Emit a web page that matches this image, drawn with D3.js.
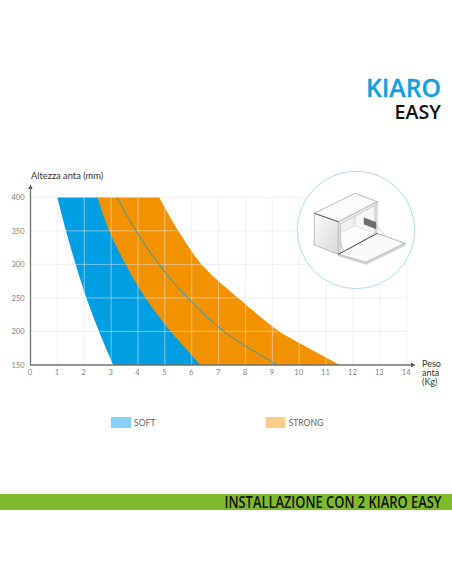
<!DOCTYPE html>
<html><head><meta charset="utf-8">
<script src="https://cdn.jsdelivr.net/npm/d3@7"></script>
<style>html,body{margin:0;padding:0;background:#fff}svg{display:block}</style>
</head><body><div id="c"></div>
<script>
const softHeights = [400, 350, 300, 250, 200, 150];
const softLeft    = [1.0, 1.32, 1.68, 2.08, 2.55, 3.08];
const softRight   = [2.49, 2.93, 3.54, 4.28, 5.22, 6.33];
const midHeights  = [400, 350, 300, 250, 200, 150];
const midLine     = [3.21, 3.93, 4.78, 5.85, 7.2, 9.18];
const strongHeights = [400, 350, 300, 250, 200, 190, 150];
const strongRight   = [4.79, 5.5, 6.37, 7.73, 9.26, 9.69, 11.52];
const xTicks = d3.range(0, 15);
const yTicks = [150, 200, 250, 300, 350, 400];
const legendLabels = ["SOFT", "STRONG"];

const W = 452, H = 584;
const svg = d3.select("#c").append("svg").attr("width", W).attr("height", H);
const x = d3.scaleLinear().domain([0, 14]).range([30.5, 406.7]);
const y = d3.scaleLinear().domain([150, 400]).range([365, 197.3]);
const font = "Lato, 'Open Sans', sans-serif";
const curve = d3.curveCatmullRom.alpha(0.5);
const ln = d3.line().curve(curve);

// text squeezed horizontally to a measured width
function fitted(xp, yp, width, size, fill, str) {
  const t = svg.append("text").attr("font-family", "'Open Sans'").attr("font-weight", 600)
    .attr("font-size", size).attr("fill", fill).text(str);
  const k = width / t.node().getComputedTextLength();
  t.attr("transform", `translate(${xp},${yp}) scale(${k},1)`);
  return t;
}

// header
fitted(366, 96.5, 75, 26, "#139fdc", "KIARO").attr("stroke", "#139fdc").attr("stroke-width", .3);
fitted(394.5, 119, 46.5, 20, "#111", "EASY");

// fills
const soft = d3.area().curve(curve).y(d => y(d.h)).x0(d => x(d.a)).x1(d => x(d.b));
svg.append("path")
  .datum(softHeights.map((h, i) => ({h, a: softLeft[i], b: softRight[i] + .3})))
  .attr("d", soft).attr("fill", "#009fe3");

const strongPts = strongHeights.map((h, i) => [x(strongRight[i]), y(h)]);
const leftPts = softHeights.map((h, i) => [x(softRight[i]), y(h)]);
svg.append("path")
  .attr("d", ln(strongPts) + "L" + ln(leftPts.slice().reverse()).slice(1) + "Z")
  .attr("fill", "#f39200");

// grid
const gridG = svg.append("g").attr("stroke", "#e4e4e4").attr("stroke-opacity", .55).attr("stroke-width", 1);
gridG.selectAll("line.v").data(xTicks.slice(1)).join("line").attr("class", "v")
  .attr("x1", d => x(d)).attr("x2", d => x(d)).attr("y1", y(400)).attr("y2", y(150));
gridG.selectAll("line.h").data(yTicks.slice(1)).join("line").attr("class", "h")
  .attr("x1", x(0)).attr("x2", x(14)).attr("y1", d => y(d)).attr("y2", d => y(d));

// middle line
svg.append("path")
  .datum(midHeights.map((h, i) => [x(midLine[i]), y(h)]))
  .attr("d", ln).attr("fill", "none").attr("stroke", "#1f9bc9").attr("stroke-width", 1);

// axes
const gx = svg.append("g").attr("transform", `translate(0,${y(150)})`)
  .call(d3.axisBottom(x).tickValues(xTicks).tickSize(0).tickPadding(5));
const gy = svg.append("g").attr("transform", `translate(${x(0)},0)`)
  .call(d3.axisLeft(y).tickValues(yTicks).tickSize(0).tickPadding(6));
[gx, gy].forEach(g => {
  g.select(".domain").remove();
  g.selectAll("text").attr("font-family", font).attr("font-size", 7.5).attr("fill", "#808080");
});
gx.selectAll("text").attr("dx", -1);
svg.append("line").attr("x1", x(0)).attr("x2", 412).attr("y1", y(150)).attr("y2", y(150))
  .attr("stroke", "#6f6f6f").attr("stroke-width", 1.3);
svg.append("line").attr("x1", x(0)).attr("x2", x(0)).attr("y1", y(150) + .6).attr("y2", 188)
  .attr("stroke", "#6f6f6f").attr("stroke-width", 1.3);
svg.append("path").attr("d", "M0,-2.2L4.5,0L0,2.2Z").attr("fill", "#555")
  .attr("transform", `translate(411,${y(150)})`);
svg.append("path").attr("d", "M0,-2.2L4.5,0L0,2.2Z").attr("fill", "#555")
  .attr("transform", `translate(${x(0)},189) rotate(-90)`);

// axis titles
svg.append("text").attr("x", 31).attr("y", 179).attr("font-family", font).attr("font-size", 9.3)
  .attr("fill", "#333").text("Altezza anta (mm)");
["Peso", "anta", "(Kg)"].forEach((t, i) => {
  svg.append("text").attr("x", 422).attr("y", 367 + i * 9).attr("font-family", font)
    .attr("font-size", 9).attr("fill", "#333").text(t);
});

// legend
const legend = svg.selectAll("g.lg").data(legendLabels).join("g").attr("class", "lg")
  .attr("transform", (d, i) => `translate(${i ? 265.5 : 111},0)`);
legend.append("rect").attr("y", 417).attr("width", 20).attr("height", 11)
  .attr("fill", (d, i) => i ? "#fecb8b" : "#86d1f5");
legend.append("text").attr("x", 23).attr("y", 425.5).attr("font-family", font)
  .attr("font-size", 8.6).attr("fill", "#666").text(d => d);

// illustration
svg.append("circle").attr("cx", 356).attr("cy", 230).attr("r", 58.7)
  .attr("fill", "#fff").attr("stroke", "#a5def5").attr("stroke-width", 1);
const defs = svg.append("defs");
const gr = defs.append("linearGradient").attr("id", "g1").attr("x1", 0).attr("x2", 1).attr("y1", 0).attr("y2", 1);
gr.append("stop").attr("offset", 0).attr("stop-color", "#fbfbfb");
gr.append("stop").attr("offset", 1).attr("stop-color", "#d8d8d8");
const box = svg.append("g").attr("transform", "translate(290,165) scale(0.3333)")
  .attr("stroke-linejoin", "round");
const face = (d, fill, stroke, sw) => box.append("path").attr("d", d).attr("fill", fill)
  .attr("stroke", stroke || "#8a8a8a").attr("stroke-width", sw || 2);
face("M145,170L262,110V205L145,268Z", "#fdfdfd", "none");
face("M150,180L195,155V182L150,205Z", "#f0f0f0", "none");
face("M195,155L255,122V205L195,182Z", "#f7f7f7", "none");
face("M150,205L195,182L255,205L160,262Z", "#fcfcfc", "#b5b5b5", 1.2);
face("M190,148H198V182H190Z", "#e4e4e4", "none");
face("M73,145L145,170V268L73,240Z", "url(#g1)", "#a0a0a0");
face("M73,145L195,85L262,110L145,170Z", "#fbfbfb", "#999");
face("M145,170L262,110V118L150,178Z", "#e6e6e6", "#999", 1.2);
face("M254,114L262,110V205L254,208Z", "#dcdcdc", "#aaa", 1);
face("M145,170L152,176V268H145Z", "#d8d8d8", "#aaa", 1);
face("M145,268L262,205L345,235L228,292Z", "#fafafa", "#999");
face("M145,268L228,292L345,235V241L228,298L145,272Z", "#dedede", "#999", 1.2);
face("M222,158L258,172V192L222,178Z", "#6e6e6e", "#666", 1);
face("M145,268L262,205", "none", "#444", 2.6);
face("M73,145L145,170", "none", "#555", 2.6);
face("M150,232Q155,255 172,268", "none", "#aaa", 1.6);
face("M258,180L290,216", "none", "#aaa", 1.6);

// banner
svg.append("rect").attr("x", 0).attr("y", 494).attr("width", W).attr("height", 16).attr("fill", "#7fba2c");
fitted(224.5, 507.5, 217, 15.5, "#111", "INSTALLAZIONE CON 2 KIARO EASY");
</script></body></html>
